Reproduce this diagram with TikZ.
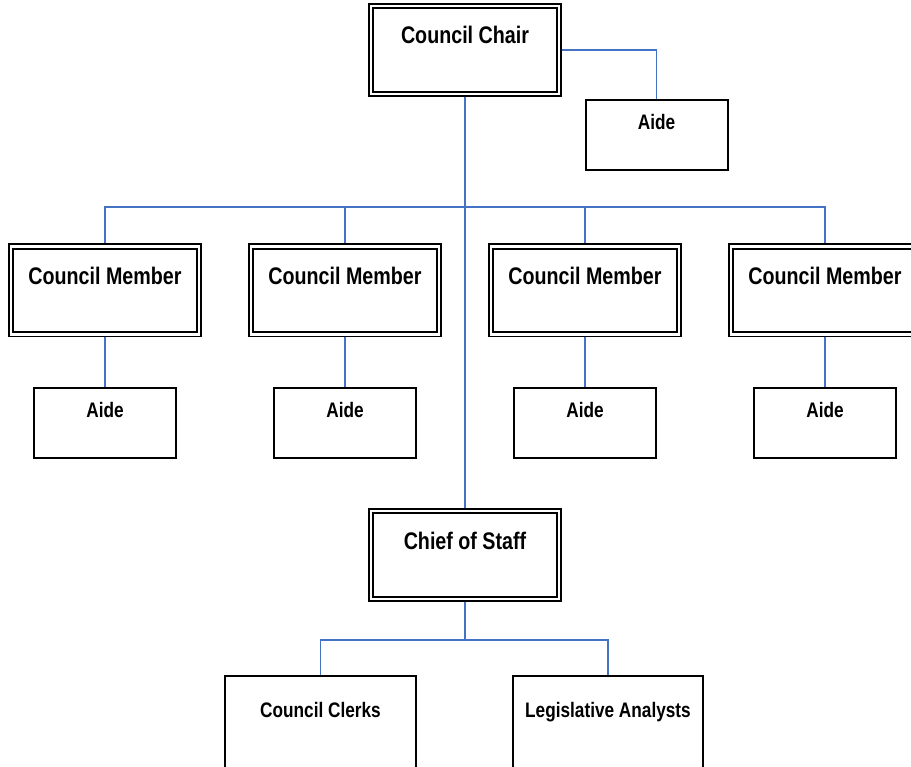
\documentclass[tikz,border=0pt]{standalone}
\usepackage{fontspec}
\setmainfont{Liberation Sans}[FakeStretch=0.82]
\usetikzlibrary{backgrounds}
\definecolor{linkblue}{HTML}{4472C4}
\tikzset{
  x=1pt, y=-1pt,
  link/.style={draw=linkblue, line width=1.6pt},
  % double-ruled box for office holders
  officebox/.style={draw=black, fill=white, double=white, double distance=2.6pt,
    line width=1.8pt, inner sep=0pt, minimum width=187.8pt,
    text height=37.9pt, text depth=49.9pt,
    font=\fontsize{24}{28}\selectfont\bfseries},
  % single-ruled box for staff
  staffbox/.style={draw=black, fill=white, line width=2pt, inner sep=0pt,
    minimum width=142pt, text height=29.5pt, text depth=40pt,
    font=\fontsize{21}{25}\selectfont\bfseries},
  unitbox/.style={draw=black, fill=white, line width=2pt, inner sep=0pt,
    minimum width=191pt, text height=41pt, text depth=79pt,
    font=\fontsize{21}{25}\selectfont\bfseries},
}
\begin{document}
\begin{tikzpicture}
\useasboundingbox (0,0) rectangle (911,767);
\clip (0,0) rectangle (911,767);

% chair and personal aide
\node[officebox] (chair) at (465,50) {Council Chair};
\node[staffbox] (chairaide) at (656.5,135) {Aide};

% council members and their aides
\node[officebox] (cm1) at (105,290.5) {Council Member};
\node[officebox] (cm2) at (345,290.5) {Council Member};
\node[officebox] (cm3) at (585,290.5) {Council Member};
\node[officebox] (cm4) at (825,290.5) {Council Member};
\node[staffbox] (aide1) at (105,423) {Aide};
\node[staffbox] (aide2) at (345,423) {Aide};
\node[staffbox] (aide3) at (585,423) {Aide};
\node[staffbox] (aide4) at (825,423) {Aide};

% chief of staff and units
\node[officebox] (chief) at (465,555) {Chief of Staff};
\node[unitbox] (clerks) at (320.5,736) {Council Clerks};
\node[unitbox, minimum width=190pt] (analysts) at (608,736) {Legislative Analysts};

\coordinate (bus) at (465,207);
\coordinate (split) at (465,640);

\begin{pgfonlayer}{background}
  \draw[link] (chair.east) -| (chairaide.north);
  \draw[link] (chair.south) -- (chief.north);
  \foreach \k in {1,2,3,4} {
    \draw[link] (bus) -| (cm\k.north);
    \draw[link] (cm\k.south) -- (aide\k.north);
  }
  \draw[link] (chief.south) -- (split) -| (clerks.north);
  \draw[link] (split) -| (analysts.north);
\end{pgfonlayer}
\end{tikzpicture}
\end{document}
